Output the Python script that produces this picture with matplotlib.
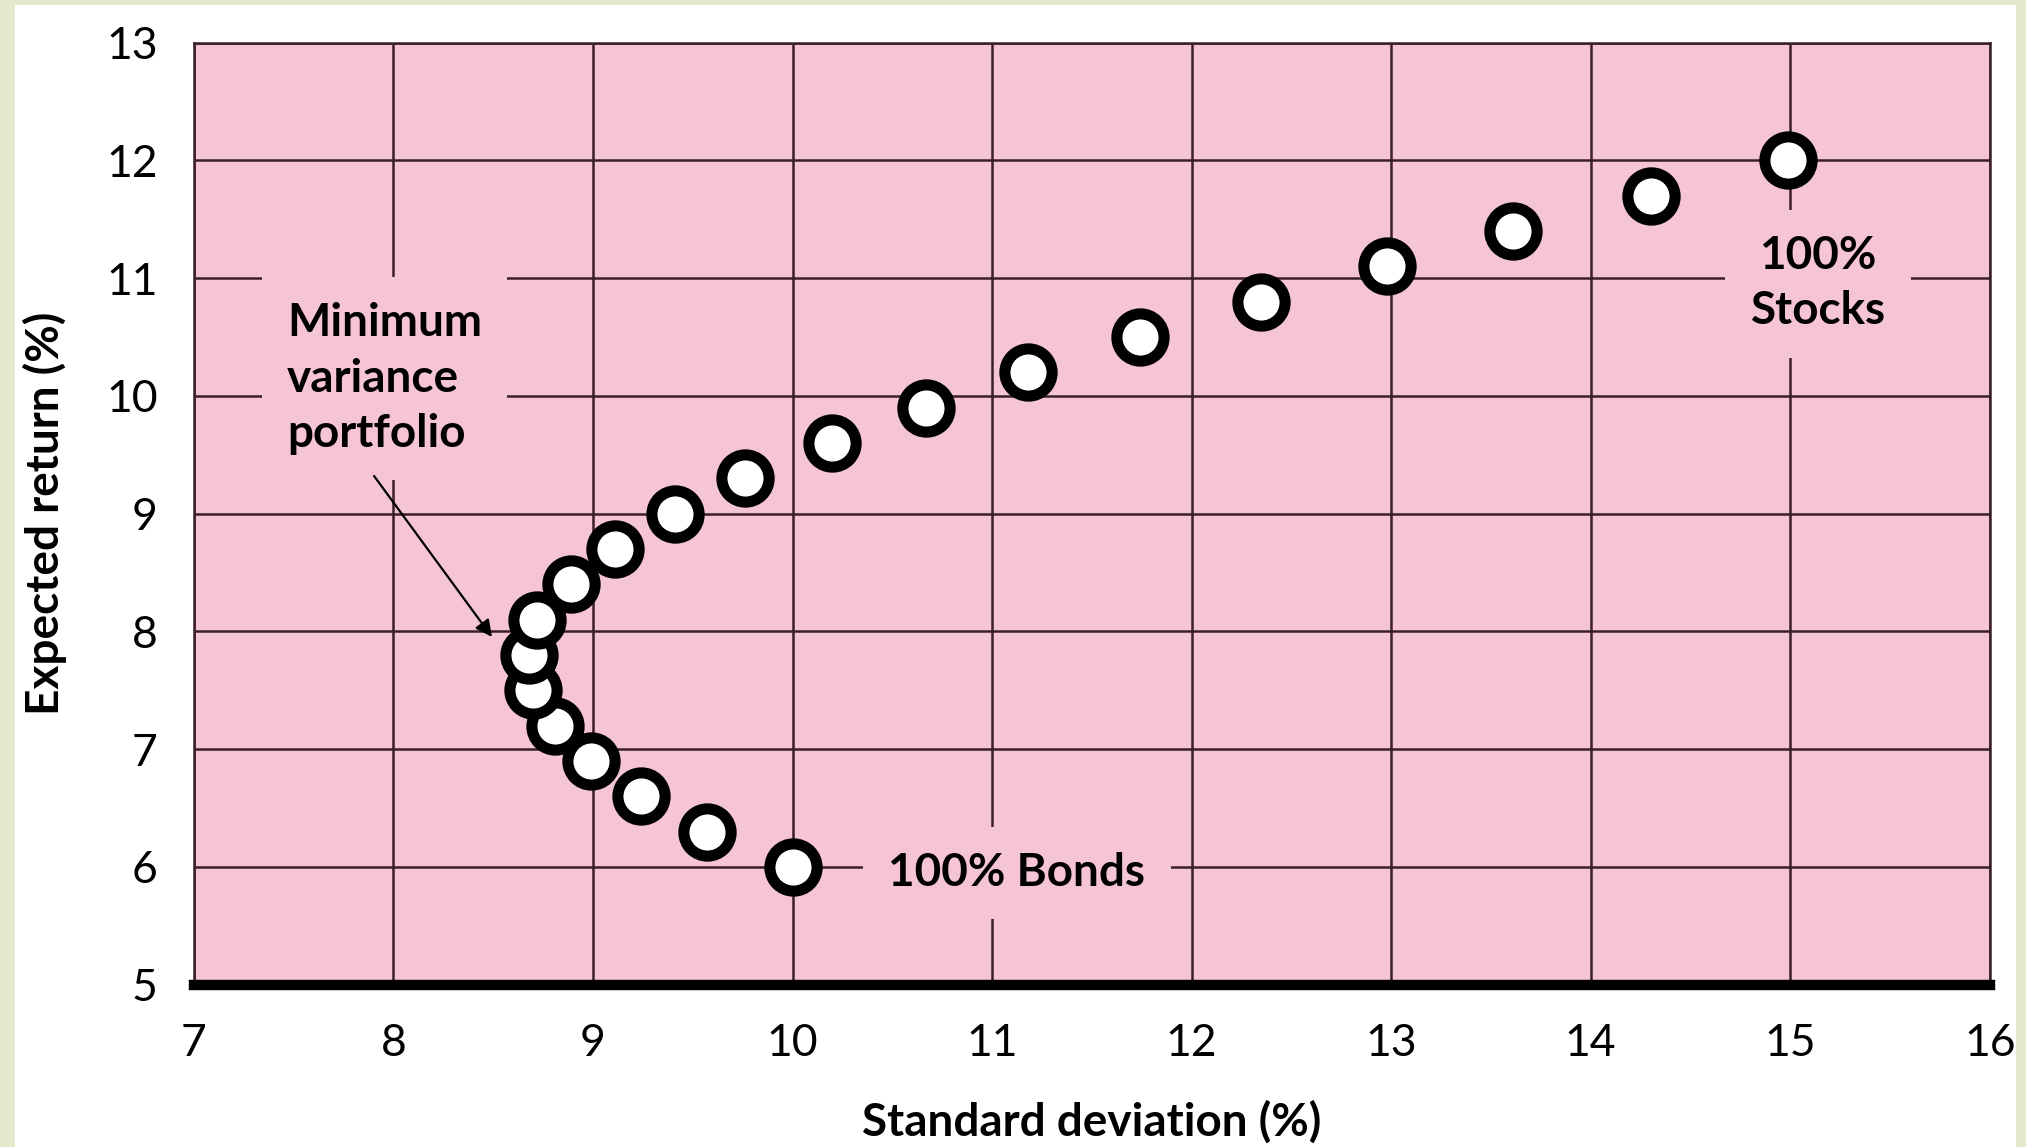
import matplotlib
matplotlib.use("Agg")
import matplotlib.pyplot as plt
from matplotlib.patches import Rectangle

# ---- data ----
std_dev = [10.00, 9.57, 9.24, 8.99, 8.81, 8.70, 8.68, 8.72, 8.89, 9.11, 9.41,
           9.76, 10.20, 10.67, 11.18, 11.74, 12.35, 12.98, 13.61, 14.30, 14.99]
exp_return = [6.0, 6.3, 6.6, 6.9, 7.2, 7.5, 7.8, 8.1, 8.4, 8.7, 9.0,
              9.3, 9.6, 9.9, 10.2, 10.5, 10.8, 11.1, 11.4, 11.7, 12.0]
x_ticks = [7, 8, 9, 10, 11, 12, 13, 14, 15, 16]
y_ticks = [5, 6, 7, 8, 9, 10, 11, 12, 13]

PINK = "#f6c5d3"
GRID = "#3a1f26"
GREEN = "#e3e9cc"
FONT = "Lato"

fig = plt.figure(figsize=(20.26, 11.47), dpi=100)
fig.patch.set_facecolor(GREEN)
fig.add_artist(Rectangle((15 / 2026, 0), (2016 - 15) / 2026, 1 - 5 / 1147,
                         transform=fig.transFigure, facecolor="white",
                         edgecolor="none", zorder=-10))

ax = fig.add_axes([0.0957, 0.1416, 0.8864, 0.8213])
ax.set_facecolor(PINK)
ax.set_xlim(7, 16)
ax.set_ylim(5, 13)
ax.set_xticks(x_ticks)
ax.set_yticks(y_ticks)
ax.set_xticklabels([str(t) for t in x_ticks], family=FONT, fontsize=32)
ax.set_yticklabels([str(t) for t in y_ticks], family=FONT, fontsize=32)
ax.tick_params(axis="both", length=0)
ax.tick_params(axis="x", pad=28)
ax.tick_params(axis="y", pad=26)
ax.grid(True, color=GRID, linewidth=1.8, zorder=1)
ax.set_axisbelow(True)

for side in ["top", "left", "right"]:
    ax.spines[side].set_color(GRID)
    ax.spines[side].set_linewidth(1.8)
ax.spines["bottom"].set_color("black")
ax.spines["bottom"].set_linewidth(7.5)
ax.spines["bottom"].set_zorder(6)

ax.set_xlabel("Standard deviation (%)", family=FONT, fontweight="bold",
              fontsize=33, labelpad=26)
ax.set_ylabel("Expected return (%)", family=FONT, fontweight="bold",
              fontsize=33, labelpad=28)

ax.plot(std_dev, exp_return, linestyle="none", marker="o", markersize=34,
        markerfacecolor="white", markeredgecolor="black",
        markeredgewidth=8, zorder=5, clip_on=False)

box = dict(facecolor=PINK, edgecolor="none", boxstyle="square,pad=0.55")

ax.text(7.466, 10.147, "Minimum\nvariance\nportfolio", ha="left", va="center",
        family=FONT, fontweight="bold", fontsize=33, linespacing=1.4,
        bbox=box, zorder=3)
ax.annotate("", xy=(8.494, 7.952), xytext=(7.903, 9.319),
            arrowprops=dict(arrowstyle="-|>", color="black", lw=1.6,
                            mutation_scale=25, shrinkA=0, shrinkB=0),
            zorder=4)
ax.text(11.125, 5.95, "100% Bonds", ha="center", va="center",
        family=FONT, fontweight="bold", fontsize=33, bbox=box, zorder=3)
ax.text(15.14, 10.953, "100%\nStocks", ha="center", va="center",
        family=FONT, fontweight="bold", fontsize=33, linespacing=1.4,
        bbox=box, zorder=3)

fig.savefig("out.png", dpi=100, facecolor=fig.get_facecolor())
